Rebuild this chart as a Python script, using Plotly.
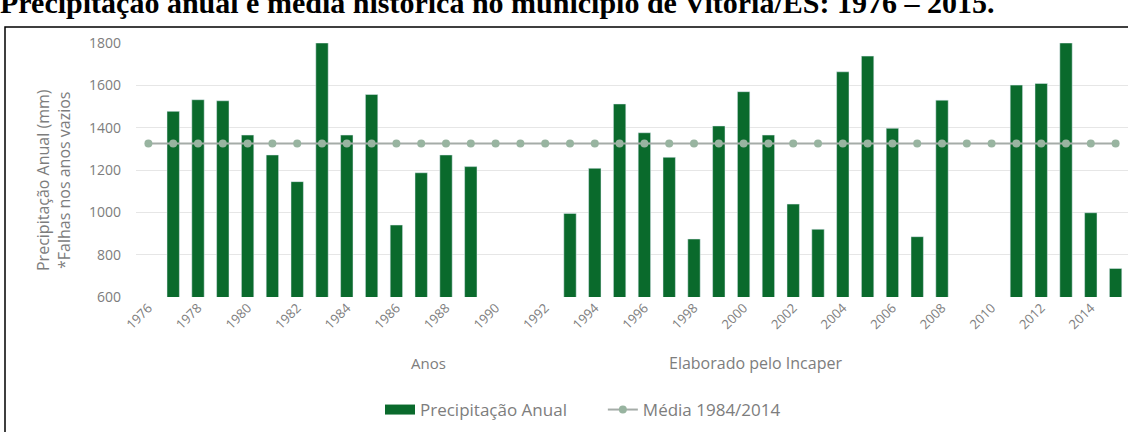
import plotly.graph_objects as go

years = [str(y) for y in range(1976, 2016)]
precip = [None, 1477, 1532, 1527, 1365, 1271, 1145, 1800, 1365, 1557,
          940, 1187, 1271, 1216, None, None, None, 995, 1208, 1512,
          1376, 1260, 874, 1408, 1570, 1365, 1039, 920, 1664, 1738,
          1397, 885, 1530, None, None, 1601, 1609, 1800, 998, 735]
media = [1325] * 40
tick_years = [str(y) for y in range(1976, 2016, 2)]

title_text = "<b>Precipitação anual e média histórica no município de Vitória/ES: 1976 – 2015.</b>"
y_title = "Precipitação Anual (mm)<br>*Falhas nos anos vazios"

font = "Open Sans, sans-serif"
grey = "#7d7d7d"
bar_color = "#0a6a2c"

fig = go.Figure()
fig.add_trace(go.Bar(
    x=years, y=precip, name="Precipitação Anual",
    marker=dict(color=bar_color), showlegend=False,
))
# legend stand-in for the bars (wide rectangle swatch)
fig.add_trace(go.Scatter(
    x=[None], y=[None], name="Precipitação Anual" + "&nbsp;" * 7, mode="lines",
    line=dict(color=bar_color, width=10),
))
fig.add_trace(go.Scatter(
    x=years, y=media, name="Média 1984/2014", mode="lines+markers",
    line=dict(color="#a5aca8", width=2),
    marker=dict(color="#98b4a0", size=8),
))

L, T, B = 136, 43, 135
PW, PH = 1128 - L, 432 - T - B

def px_x(p):
    return (p - L) / PW

def px_y(p):
    return (T + PH - p) / PH

fig.update_layout(
    width=1128, height=432,
    margin=dict(l=L, r=0, t=T, b=B, pad=0, autoexpand=False),
    paper_bgcolor="white", plot_bgcolor="white",
    bargap=0.5,
    font=dict(family=font, color=grey, size=14),
    showlegend=True,
    legend=dict(orientation="h", x=px_x(380), y=px_y(410), xanchor="left", yanchor="middle",
                font=dict(size=17, color=grey), itemwidth=30, traceorder="normal",
                bgcolor="rgba(0,0,0,0)"),
    xaxis=dict(type="category", tickvals=tick_years, ticktext=tick_years, tickangle=-45,
               showgrid=False, showline=False, tickfont=dict(size=13, color=grey),
               range=[-0.5, 39.5], automargin=False),
    yaxis=dict(range=[600, 1800], tickvals=[600, 800, 1000, 1200, 1400, 1600, 1800],
               showgrid=True, gridcolor="#e6e6e6", gridwidth=1, zeroline=False,
               tickfont=dict(size=14, color=grey), ticklabelstandoff=14, automargin=False),
    annotations=[
        dict(text=title_text, xref="paper", yref="paper", x=px_x(-2), y=px_y(2),
             xanchor="left", yanchor="middle", showarrow=False,
             font=dict(family="Liberation Serif, Times New Roman, serif", size=30, color="black"),
             ),
        dict(text=y_title, xref="paper", yref="paper", x=px_x(54), y=px_y(180),
             xanchor="center", yanchor="middle", textangle=-90, showarrow=False,
             font=dict(size=16, color=grey)),
        dict(text="Anos", xref="paper", yref="paper", x=px_x(428), y=px_y(363),
             xanchor="center", yanchor="middle", showarrow=False, font=dict(size=15, color=grey)),
        dict(text="Elaborado pelo Incaper", xref="paper", yref="paper", x=px_x(667), y=px_y(363),
             xanchor="left", yanchor="middle", showarrow=False, font=dict(size=16, color=grey)),
    ],
    shapes=[
        dict(type="rect", xref="paper", yref="paper", x0=px_x(5), x1=px_x(1140),
             y0=px_y(445), y1=px_y(27), line=dict(color="black", width=1.5), layer="above"),
    ],
)

fig.write_html("out.html", config={"displayModeBar": False},
               post_script="document.body.style.margin='0';document.body.style.overflow='hidden';")
